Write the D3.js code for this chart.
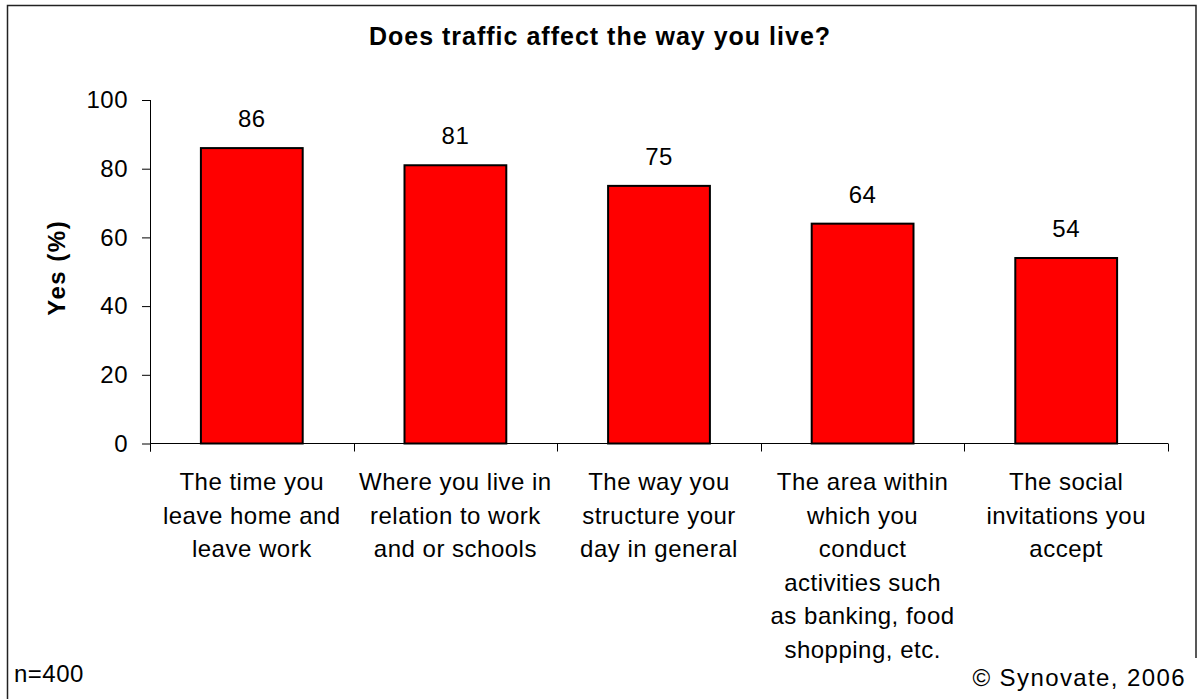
<!DOCTYPE html>
<html>
<head>
<meta charset="utf-8">
<script src="https://cdn.jsdelivr.net/npm/d3@7"></script>
<style>
  html, body { margin: 0; padding: 0; background: #fff; }
  svg { display: block; }
  text { font-family: "Liberation Sans", Arial, sans-serif; fill: #000; }
</style>
</head>
<body>
<svg id="chart" width="1200" height="699"></svg>
<script>
const title = "Does traffic affect the way you live?";
const yTitle = "Yes (%)";
const categories = [
  "The time you\nleave home and\nleave work",
  "Where you live in\nrelation to work\nand or schools",
  "The way you\nstructure your\nday in general",
  "The area within\nwhich you\nconduct\nactivities such\nas banking, food\nshopping, etc.",
  "The social\ninvitations you\naccept"
];
const values = [86, 81, 75, 64, 54];
const valueLabels = ["86", "81", "75", "64", "54"];
const yTicks = [0, 20, 40, 60, 80, 100];
const noteLeft = "n=400";
const noteRight = "© Synovate, 2006";

const svg = d3.select("#chart");
const W = 1200, H = 699;
const plot = { left: 150, right: 1168, top: 100, bottom: 443.5 };

// frame
svg.append("path")
  .attr("d", `M7.5,${H + 2} L7.5,5.5 L1196,5.5 L1196,${H + 2}`)
  .attr("fill", "none").attr("stroke", "#222").attr("stroke-width", 1.5);

const x = d3.scaleBand().domain(d3.range(categories.length))
  .range([plot.left, plot.right]).paddingInner(0.5).paddingOuter(0.25);
const y = d3.scaleLinear().domain([0, 100]).range([plot.bottom, plot.top]);

// title
svg.append("text").attr("x", 600).attr("y", 45).attr("text-anchor", "middle")
  .style("font-size", "25px").style("font-weight", "bold").style("letter-spacing", "1px").text(title);

// y axis title
svg.append("text").attr("transform", `translate(65,${(plot.top + plot.bottom) / 2 - 4}) rotate(-90)`)
  .attr("text-anchor", "middle").style("font-size", "24px").style("font-weight", "bold")
  .style("letter-spacing", "1.5px").text(yTitle);

// bars
svg.append("g").selectAll("rect").data(values).join("rect")
  .attr("x", (d, i) => x(i)).attr("width", x.bandwidth())
  .attr("y", d => y(d)).attr("height", d => y(0) - y(d))
  .attr("fill", "#ff0000").attr("stroke", "#000").attr("stroke-width", 2);

// value labels
svg.append("g").selectAll("text").data(values).join("text")
  .attr("x", (d, i) => x(i) + x.bandwidth() / 2).attr("y", d => y(d) - 21)
  .attr("text-anchor", "middle").style("font-size", "24px").style("letter-spacing", "0.5px")
  .text((d, i) => valueLabels[i]);

// y axis
const yAxis = svg.append("g").attr("transform", `translate(${plot.left},0)`)
  .call(d3.axisLeft(y).tickValues(yTicks).tickSize(8).tickPadding(14).tickFormat(d3.format("d")));
yAxis.select(".domain").attr("d", `M0.5,${plot.top} V${plot.bottom + 8}`).attr("stroke", "#000");
yAxis.selectAll(".tick line").attr("stroke", "#000");
yAxis.selectAll(".tick text").style("font-size", "24px").style("letter-spacing", "0.5px")
  .style("font-family", '"Liberation Sans", Arial, sans-serif').attr("fill", "#000");

// x axis line and boundary ticks
const step = x.step();
const boundaries = d3.range(categories.length + 1).map(i => x(0) - x.paddingOuter() * step + i * step);
svg.append("line").attr("x1", plot.left).attr("x2", plot.right)
  .attr("y1", plot.bottom).attr("y2", plot.bottom).attr("stroke", "#000");
svg.append("g").selectAll("line").data(boundaries).join("line")
  .attr("x1", d => Math.round(d) + 0.5).attr("x2", d => Math.round(d) + 0.5)
  .attr("y1", plot.bottom).attr("y2", plot.bottom + 8).attr("stroke", "#000");

// category labels
const catG = svg.append("g").selectAll("text").data(categories).join("text")
  .attr("text-anchor", "middle").style("font-size", "24px").style("letter-spacing", "0.5px");
catG.each(function (d, i) {
  const t = d3.select(this);
  d.split("\n").forEach((line, j) => {
    t.append("tspan").attr("x", x(i) + x.bandwidth() / 2).attr("y", 490 + j * 33.6).text(line);
  });
});

// notes
svg.append("text").attr("x", 14).attr("y", 682).style("font-size", "24px").style("letter-spacing", "0.5px").text(noteLeft);
svg.append("rect").attr("x", 960).attr("y", 658).attr("width", 240).attr("height", 41).attr("fill", "#fff");
svg.append("text").attr("x", 1186).attr("y", 686).attr("text-anchor", "end").style("font-size", "24px")
  .style("letter-spacing", "1.4px").text(noteRight);
</script>
</body>
</html>
